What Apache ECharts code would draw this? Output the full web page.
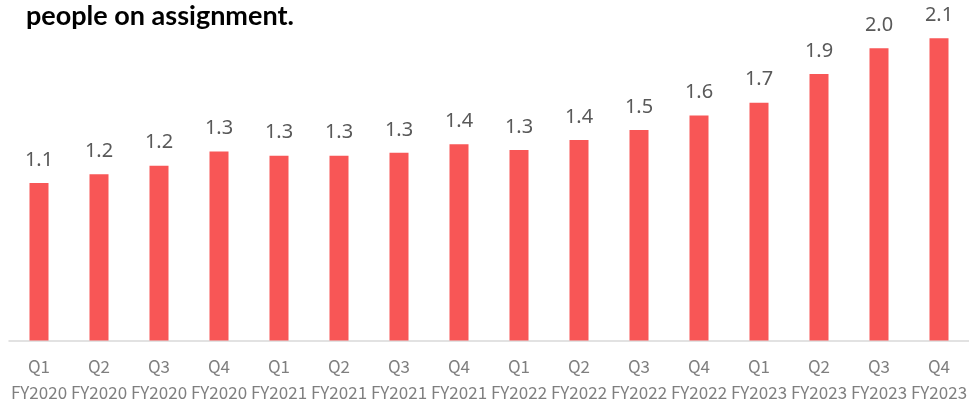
<!DOCTYPE html>
<html>
<head>
<meta charset="utf-8">
<script src="https://cdn.jsdelivr.net/npm/echarts@6/dist/echarts.min.js"></script>
<style>
  html, body { margin: 0; padding: 0; background: #ffffff; }
  #chart { width: 969px; height: 399px; }
</style>
</head>
<body>
<div id="chart"></div>
<script>
// Quarterly series (thousands of people on assignment)
const quarters = ['Q1', 'Q2', 'Q3', 'Q4', 'Q1', 'Q2', 'Q3', 'Q4', 'Q1', 'Q2', 'Q3', 'Q4', 'Q1', 'Q2', 'Q3', 'Q4'];
const fiscalYears = ['FY2020', 'FY2020', 'FY2020', 'FY2020', 'FY2021', 'FY2021', 'FY2021', 'FY2021',
                     'FY2022', 'FY2022', 'FY2022', 'FY2022', 'FY2023', 'FY2023', 'FY2023', 'FY2023'];
const peopleOnAssignment = [1.10, 1.16, 1.22, 1.32, 1.29, 1.29, 1.31, 1.37,
                            1.33, 1.40, 1.47, 1.57, 1.66, 1.86, 2.04, 2.11];
const titleText = 'people on assignment.';

const categories = quarters.map((q, i) => q + '\n' + fiscalYears[i]);

const chart = echarts.init(document.getElementById('chart'), null, { renderer: 'canvas' });
chart.setOption({
  animation: false,
  backgroundColor: '#ffffff',
  title: {
    text: titleText,
    left: 21,
    top: -2,
    textStyle: {
      fontFamily: 'Lato',
      fontWeight: 'bold',
      fontSize: 27,
      color: '#000000'
    }
  },
  grid: {
    left: 9, right: 0, top: 11, bottom: 58.5,
    containLabel: false,
    outerBoundsMode: 'none'
  },
  xAxis: {
    type: 'category',
    data: categories,
    axisLine: { show: true, lineStyle: { color: '#D9D9D9', width: 1.5 } },
    axisTick: { show: false },
    axisLabel: {
      interval: 0,
      margin: 13,
      fontFamily: 'Noto Sans CJK JP',
      fontSize: 17,
      lineHeight: 26,
      color: '#7F7F7F'
    }
  },
  yAxis: {
    type: 'value',
    min: 0,
    max: 2.3,
    show: false,
    splitLine: { show: false }
  },
  series: [{
    type: 'bar',
    data: peopleOnAssignment,
    barWidth: 19,
    itemStyle: { color: '#F85656' },
    label: {
      show: true,
      position: 'top',
      distance: 13,
      fontFamily: 'Noto Sans',
      fontSize: 20,
      color: '#595959',
      formatter: p => p.value.toFixed(1)
    }
  }]
});
</script>
</body>
</html>
